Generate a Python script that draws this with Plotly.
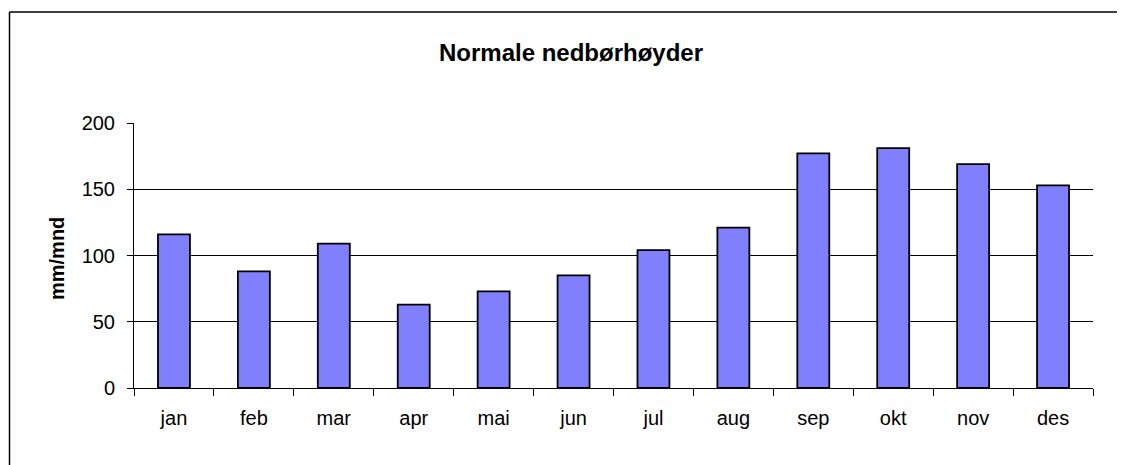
import plotly.graph_objects as go

months = ["jan", "feb", "mar", "apr", "mai", "jun", "jul", "aug", "sep", "okt", "nov", "des"]
values = [116, 88, 109, 63, 73, 85, 104, 121, 177, 181, 169, 153]
y_ticks = [0, 50, 100, 150, 200]

title_text = "Normale nedbørhøyder"
y_title = "mm/mnd"

# page body has an 8px margin; work in screen coordinates and shift
OFF = 8
W, H = 1125 - OFF, 465 - OFF
PL, PR, PT, PB = 134, 1093, 123, 388  # plot area in screen px
L, R, T, B = PL - OFF, W - (PR - OFF), PT - OFF, H - (PB - OFF)
pw = PR - PL
ph = PB - PT

def px_x(p):
    return (p - PL) / pw

def px_y(p):
    return (PB - p) / ph

font_family = "Arial, Liberation Sans, sans-serif"

fig = go.Figure(
    go.Bar(
        x=months,
        y=values,
        width=0.4,
        marker=dict(color="#8080FF", line=dict(color="black", width=1.8)),
    )
)

fig.update_layout(
    width=W,
    height=H,
    margin=dict(l=L, r=R, t=T, b=B),
    paper_bgcolor="white",
    plot_bgcolor="white",
    showlegend=False,
    font=dict(family=font_family, color="black", size=20),
    shapes=[
        dict(type="line", xref="paper", yref="paper", x0=px_x(9.5), x1=px_x(1140),
             y0=px_y(12), y1=px_y(12), line=dict(color="black", width=1.5)),
        dict(type="line", xref="paper", yref="paper", x0=px_x(9.5), x1=px_x(9.5),
             y0=px_y(12), y1=px_y(480), line=dict(color="black", width=1.5)),
    ],
    annotations=[
        dict(text=f"<b>{title_text}</b>", xref="paper", yref="paper",
             x=px_x(571), y=px_y(52), xanchor="center", yanchor="middle",
             showarrow=False, font=dict(size=24, family=font_family, color="black")),
        dict(text=f"<b>{y_title}</b>", xref="paper", yref="paper",
             x=px_x(57), y=px_y(259), xanchor="center", yanchor="middle",
             textangle=-90, showarrow=False,
             font=dict(size=20, family=font_family, color="black")),
    ],
)

fig.update_xaxes(
    type="category",
    showgrid=False,
    showline=True,
    linecolor="black",
    linewidth=1,
    ticks="outside",
    ticklen=7,
    tickcolor="black",
    tickson="boundaries",
    tickfont=dict(size=20),
    ticklabelstandoff=12,
    range=[-0.5, 11.5],
)

fig.update_yaxes(
    range=[0, 200],
    tickvals=y_ticks,
    showgrid=True,
    gridcolor="black",
    gridwidth=1,
    showline=True,
    linecolor="black",
    linewidth=1,
    ticks="outside",
    ticklen=6,
    tickcolor="black",
    tickfont=dict(size=20),
    ticklabelstandoff=8,
    zeroline=False,
)

fig.write_html("out.html")
